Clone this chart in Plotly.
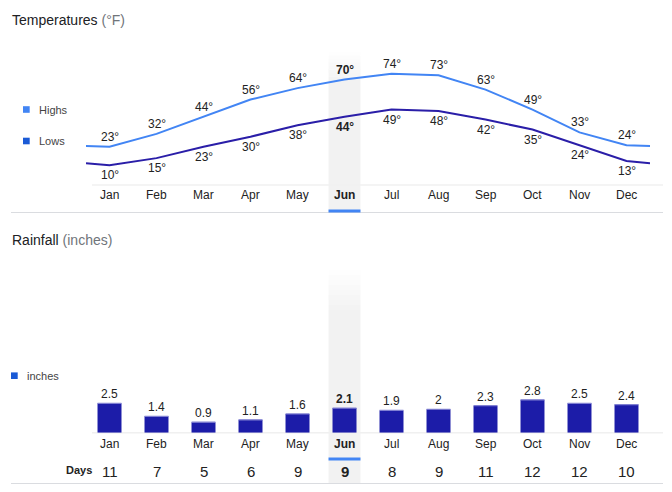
import plotly.graph_objects as go

# data
months = ["Jan", "Feb", "Mar", "Apr", "May", "Jun", "Jul", "Aug", "Sep", "Oct", "Nov", "Dec"]
highs = [23, 32, 44, 56, 64, 70, 74, 73, 63, 49, 33, 24]
lows = [10, 15, 23, 30, 38, 44, 49, 48, 42, 35, 24, 13]
highs_edge = 23.5   # value where the line meets the left/right edge
lows_edge = 11.5
rain = [2.5, 1.4, 0.9, 1.1, 1.6, 2.1, 1.9, 2, 2.3, 2.8, 2.5, 2.4]
rain_days = [11, 7, 5, 6, 9, 9, 8, 9, 11, 12, 12, 10]
current = 5  # Jun highlighted

# page body has an 8px margin, so the figure is sized to fit inside the window
OFF = 8
W, H = 672 - 2 * OFF, 492 - 2 * OFF
FONT = "Arial, Liberation Sans, sans-serif"
HI_COL = "#4285f4"
LO_COL = "#2a1ea8"
BAR_COL = "#1c1ca8"
TXT = "#222222"


def py(p):
    return 1 - (p - OFF) / H


def px(p):
    return (p - OFF) / W


idx = list(range(len(months)))
xs_line = [-0.5] + idx + [len(months) - 0.5]

fig = go.Figure()

# temperature lines
fig.add_trace(go.Scatter(x=xs_line, y=[highs_edge] + highs + [highs_edge], mode="lines",
                         line=dict(color=HI_COL, width=2), xaxis="x", yaxis="y",
                         hoverinfo="skip", showlegend=False))
fig.add_trace(go.Scatter(x=xs_line, y=[lows_edge] + lows + [lows_edge], mode="lines",
                         line=dict(color=LO_COL, width=2), xaxis="x", yaxis="y",
                         hoverinfo="skip", showlegend=False))

# rainfall bars, with a thin lighter edge on top (line-ew spans 1.4 x size)
fig.add_trace(go.Bar(x=idx, y=rain, width=0.51, marker=dict(color=BAR_COL, line=dict(width=0)),
                     xaxis="x2", yaxis="y2", hoverinfo="skip", showlegend=False))
fig.add_trace(go.Scatter(x=idx, y=rain, mode="markers", xaxis="x2", yaxis="y2",
                         marker=dict(symbol="line-ew", size=17, line=dict(color="#8080d2", width=1.2)),
                         hoverinfo="skip", showlegend=False))

shapes = []
ann = []


# highlight band for the current month (fading at the top)
def band(top, bottom, fade=28, steps=8):
    for k in range(steps):
        y0 = top + fade * k / steps
        y1 = top + fade * (k + 1) / steps
        shapes.append(dict(type="rect", xref="x", yref="paper", x0=current - 0.34, x1=current + 0.34,
                           y0=py(y1), y1=py(y0), fillcolor="#f2f2f2", opacity=(k + 1) / (steps + 1),
                           line=dict(width=0), layer="below"))
    shapes.append(dict(type="rect", xref="x", yref="paper", x0=current - 0.34, x1=current + 0.34,
                       y0=py(bottom), y1=py(top + fade), fillcolor="#f2f2f2",
                       line=dict(width=0), layer="below"))


band(52, 212)
band(270, 484, fade=40)

# baselines and separators
for yy, x0 in [(185, 92), (432.7, 92)]:
    shapes.append(dict(type="line", xref="paper", yref="paper", x0=px(x0), x1=px(663),
                       y0=py(yy), y1=py(yy), line=dict(color="#f0f0f0", width=1.5), layer="below"))
for yy in [212.5, 483.5]:
    shapes.append(dict(type="line", xref="paper", yref="paper", x0=px(11), x1=px(663),
                       y0=py(yy), y1=py(yy), line=dict(color="#dadce0", width=1)))
# current month underline
for y0, y1 in [(209.5, 212.5), (457.5, 460.5)]:
    shapes.append(dict(type="rect", xref="x", yref="paper", x0=current - 0.34, x1=current + 0.34,
                       y0=py(y1), y1=py(y0), fillcolor=HI_COL, line=dict(width=0)))

# titles
for yy, main, unit in [(20, "Temperatures", "(°F)"), (240, "Rainfall", "(inches)")]:
    ann.append(dict(xref="paper", yref="paper", x=px(10), y=py(yy), xanchor="left", yanchor="middle",
                    text=main + " <span style='color:#70757a'>" + unit + "</span>", showarrow=False,
                    font=dict(family=FONT, size=14, color="#202124")))

# legend
for yy, label, col in [(109.5, "Highs", HI_COL), (141, "Lows", "#1a5ad6"), (375.7, "inches", "#1a5ad6")]:
    x0 = 23 if label != "inches" else 11
    shapes.append(dict(type="rect", xref="paper", yref="paper", x0=px(x0), x1=px(x0 + 6.7),
                       y0=py(yy + 3.3), y1=py(yy - 3.3), fillcolor=col, line=dict(width=0)))
    ann.append(dict(xref="paper", yref="paper", x=px(x0 + 14), y=py(yy), xanchor="left",
                    yanchor="middle", text=label, showarrow=False,
                    font=dict(family=FONT, size=11, color="#444444")))

# value labels and month labels
for i, m in enumerate(months):
    bold = i == current

    def b(s):
        return "<b>" + s + "</b>" if bold else s
    ann.append(dict(xref="x", yref="y", x=i, y=highs[i], yshift=10, yanchor="middle",
                    text=b(f"{highs[i]}°"), showarrow=False, font=dict(family=FONT, size=12, color=TXT)))
    ann.append(dict(xref="x", yref="y", x=i, y=lows[i], yshift=-10, yanchor="middle",
                    text=b(f"{lows[i]}°"), showarrow=False, font=dict(family=FONT, size=12, color=TXT)))
    ann.append(dict(xref="x2", yref="y2", x=i, y=rain[i], yshift=9, yanchor="middle",
                    text=b(f"{rain[i]:g}"), showarrow=False, font=dict(family=FONT, size=12, color=TXT)))
    ann.append(dict(xref="x", yref="paper", x=i, y=py(195.5), yanchor="middle",
                    text=b(m), showarrow=False, font=dict(family=FONT, size=12, color=TXT)))
    ann.append(dict(xref="x2", yref="paper", x=i, y=py(443.5), yanchor="middle",
                    text=b(m), showarrow=False, font=dict(family=FONT, size=12, color=TXT)))
    ann.append(dict(xref="x2", yref="paper", x=i, y=py(471), yanchor="middle",
                    text=b(str(rain_days[i])), showarrow=False, font=dict(family=FONT, size=15, color=TXT)))

ann.append(dict(xref="paper", yref="paper", x=px(93.5), y=py(469.5), xanchor="right", yanchor="middle",
                text="<b>Days</b>", showarrow=False, font=dict(family=FONT, size=11, color=TXT)))

xdom = [px(86), px(650)]
fig.update_layout(
    width=W, height=H,
    margin=dict(l=0, r=0, t=0, b=0),
    paper_bgcolor="white", plot_bgcolor="rgba(0,0,0,0)",
    xaxis=dict(domain=xdom, range=[-0.5, 11.5], visible=False, fixedrange=True),
    yaxis=dict(domain=[py(185), py(52)], range=[-3.8, 89.3], visible=False, fixedrange=True),
    xaxis2=dict(domain=xdom, range=[-0.5, 11.5], visible=False, anchor="y2", fixedrange=True),
    yaxis2=dict(domain=[py(432.7), py(270)], range=[0, 13.87], visible=False, anchor="x2",
                fixedrange=True),
    shapes=shapes,
    annotations=ann,
    showlegend=False,
)

fig.write_html("out.html", config=dict(displayModeBar=False))
